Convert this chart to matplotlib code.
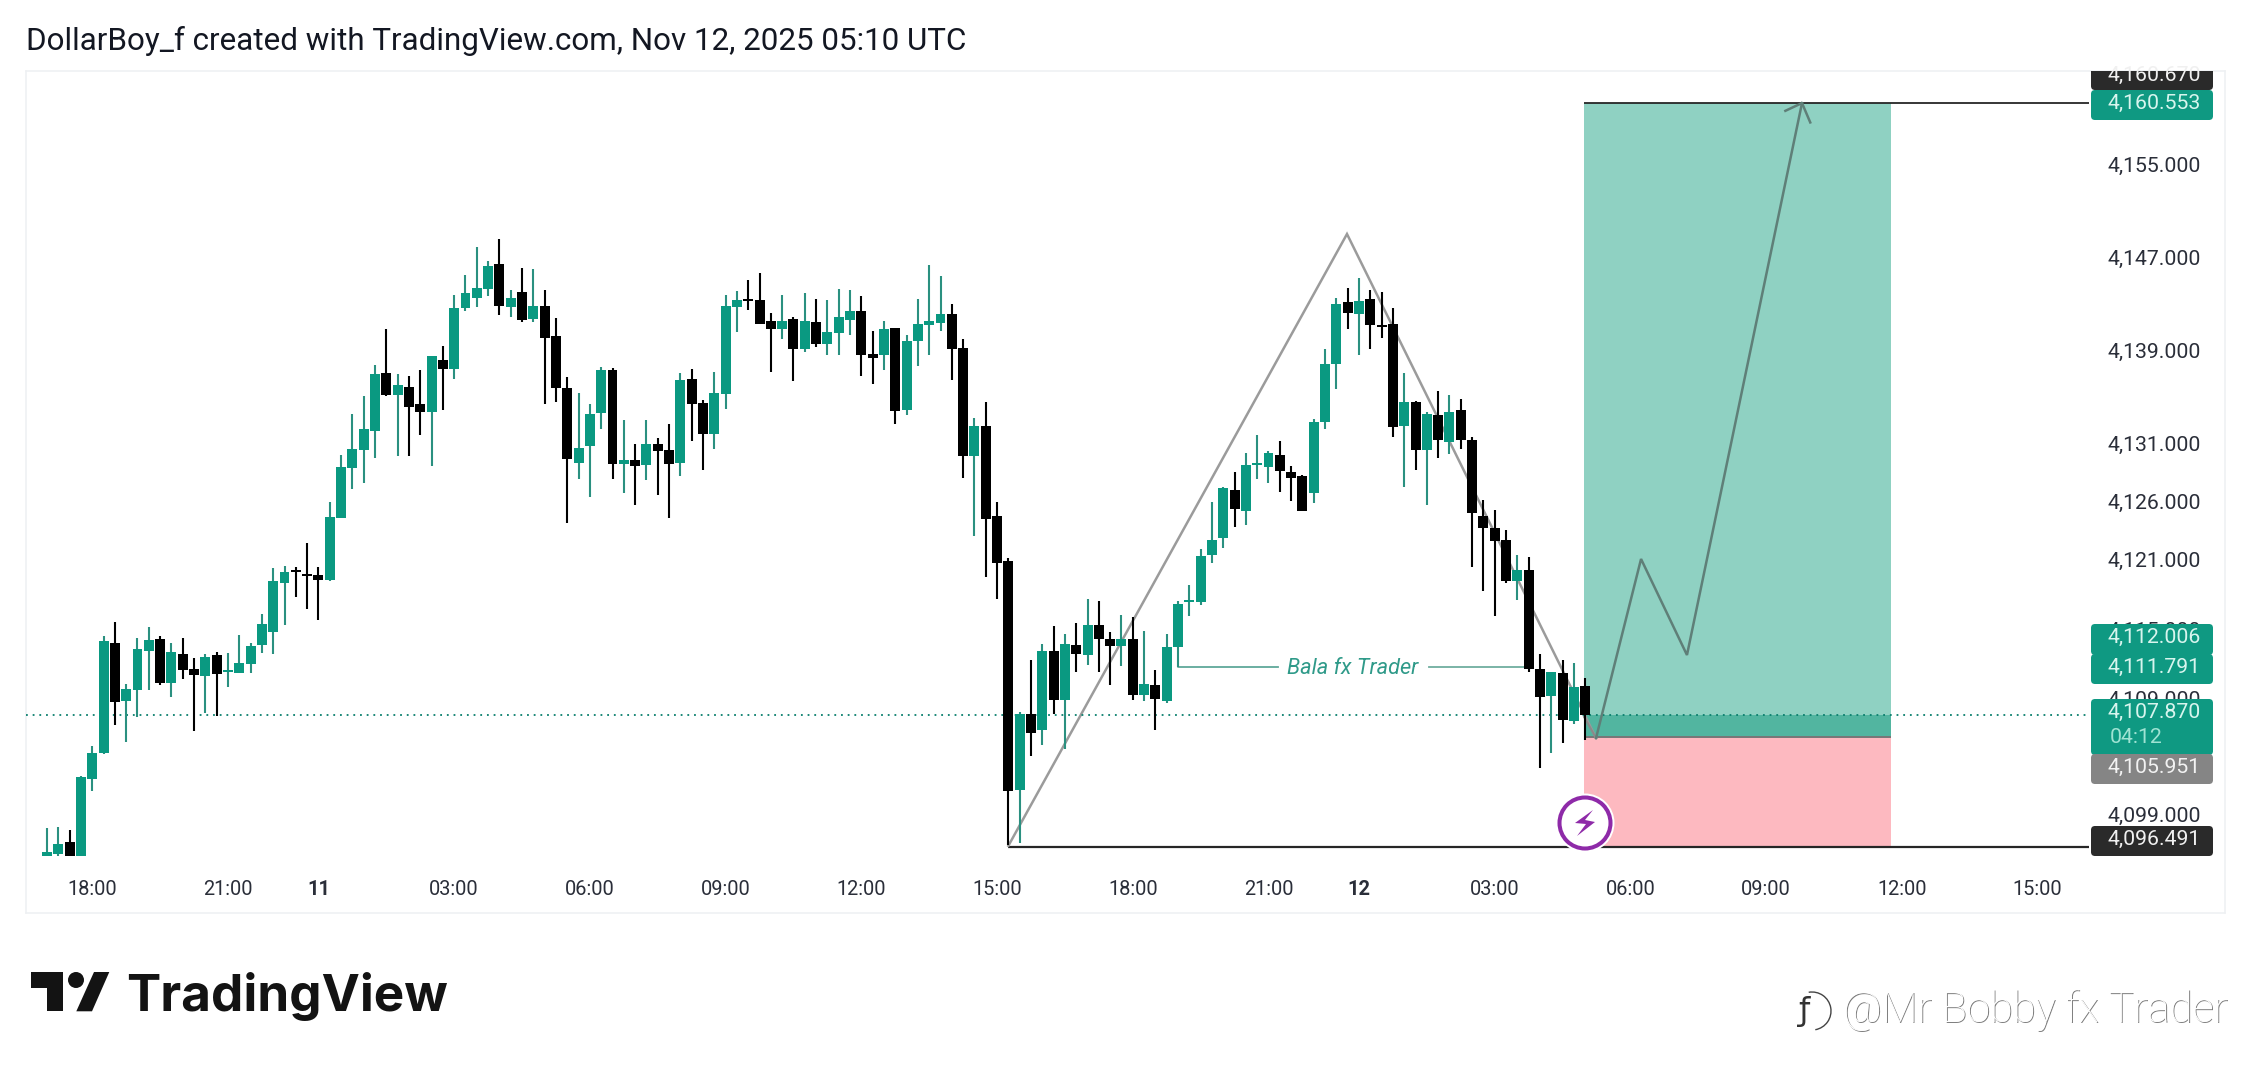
import numpy as np
import matplotlib
matplotlib.use("Agg")
import matplotlib.pyplot as plt
from matplotlib.patches import Rectangle, Circle, Polygon, FancyBboxPatch, Arc

W, H = 2251, 1072
BASE = 4000
opens = [95.75,95.93,96.91,95.75,102.35,104.56,114.06,109.06,110.0,113.37,114.42,110.61,113.12,111.81,111.23,113.04,111.56,111.52,112.25,113.88,115.0,119.24,120.33,120.04,119.93,119.46,124.82,129.14,130.7,132.33,137.33,135.41,136.1,134.65,133.96,138.42,137.66,142.88,143.82,144.54,146.68,142.99,144.29,141.93,
143.08,140.5,136.02,129.59,131.05,133.9,137.57,129.5,129.82,129.39,131.2,130.68,129.59,136.8,134.73,132.09,135.53,143.0,143.66,143.6,141.76,141.13,141.93,139.41,141.68,139.84,140.79,141.91,142.65,138.95,138.89,141.19,134.13,140.1,141.47,141.62,142.37,139.44,130.19,132.72,124.97,
121.1,101.42,107.92,106.56,113.37,109.18,113.88,113.07,115.62,114.39,113.82,114.39,109.59,110.44,109.07,113.71,117.6,117.6,121.65,123.11,127.24,125.43,129.38,129.21,130.27,128.8,128.43,127.0,133.09,138.1,143.41,142.36,143.69,141.4,141.54,132.75,134.82,130.69,133.7,131.38,134.13,131.55,125.0,123.97,122.93,119.4,120.35,111.82,109.53,111.45,107.35,110.36]
closes = [96.1,96.73,95.75,102.53,104.56,114.24,108.98,110.11,113.55,114.35,110.61,113.3,111.74,111.3,112.86,111.38,111.74,112.35,113.8,115.69,119.39,120.22,120.19,119.86,119.5,124.9,129.21,130.77,132.47,137.22,135.41,136.28,134.39,133.96,138.82,137.66,142.91,144.22,144.62,146.54,143.09,143.78,141.86,143.09,
140.36,136.05,129.93,130.82,133.75,137.57,129.5,129.82,129.3,131.17,130.59,129.5,136.71,134.67,132.09,135.56,143.05,143.6,143.54,141.56,141.13,141.79,139.41,141.79,139.84,140.84,142.11,142.65,138.86,138.63,141.07,134.07,140.04,141.5,141.76,142.37,139.41,130.19,132.72,124.77,120.98,
101.35,107.99,106.32,113.37,109.18,113.99,113.13,115.62,114.39,113.82,114.39,109.59,110.51,109.22,113.71,117.43,117.8,121.55,122.94,127.41,125.6,129.38,129.52,130.44,128.91,128.29,125.43,133.09,138.1,143.24,142.53,143.48,141.45,141.31,132.7,134.82,130.69,133.79,131.55,133.96,131.55,125.29,123.97,122.88,119.4,120.35,111.82,109.41,111.6,107.43,110.28,107.87]
highs = [98.11,98.25,98.0,102.64,105.18,114.67,115.87,110.51,114.53,115.44,114.67,114.06,114.53,112.75,113.08,113.33,113.19,114.78,114.09,116.52,120.51,120.66,120.58,122.72,120.58,126.2,130.26,133.78,135.34,137.98,141.1,137.22,137.04,137.59,138.82,139.65,144.07,145.74,148.17,146.97,148.86,144.51,146.36,146.25,
144.46,142.02,136.94,135.56,134.61,137.8,137.71,133.24,131.17,133.24,131.69,132.89,137.28,137.63,134.96,137.37,144.0,144.35,145.29,145.9,142.45,144.0,142.11,144.17,143.66,143.57,144.52,144.43,143.92,140.9,141.76,141.19,140.61,143.66,146.59,145.64,143.23,140.21,133.41,134.84,126.17,
121.35,108.13,112.59,114.02,115.49,114.87,115.83,117.84,117.66,115.01,116.47,116.34,115.08,111.77,114.87,117.66,119.1,122.19,126.18,127.47,128.77,130.4,131.97,130.61,131.49,129.35,128.53,133.37,139.39,143.75,144.67,145.47,144.47,144.27,142.89,137.29,134.91,133.93,135.74,135.39,135.05,131.78,126.38,125.52,123.8,121.64,121.47,113.12,111.6,112.57,112.31,111.02]
lows = [95.7,95.75,95.75,95.75,101.33,104.52,106.99,105.54,107.71,110.0,110.43,109.42,110.98,106.48,108.0,107.79,110.29,111.49,111.49,113.22,113.12,115.62,118.01,116.99,116.05,119.42,124.8,127.36,127.83,130.01,135.34,130.15,130.15,131.97,129.32,134.14,136.79,142.66,142.99,143.93,142.3,142.15,141.72,141.72,
134.67,134.84,124.42,128.21,126.66,132.49,128.21,127.01,125.97,128.12,126.83,124.85,128.47,131.49,128.99,130.77,134.24,140.87,142.74,141.56,137.43,140.27,136.65,139.15,139.58,138.89,138.89,140.61,137.08,136.39,137.6,132.95,133.72,137.94,138.89,140.96,136.71,128.3,123.24,119.77,117.88,
96.65,96.82,104.35,105.3,107.96,104.96,111.57,112.15,111.57,110.44,112.08,109.18,109.08,106.53,108.91,111.98,116.41,117.36,120.93,122.26,124.07,124.27,128.22,127.88,127.1,126.32,125.43,126.08,132.51,135.92,141.1,138.88,139.39,140.33,131.83,127.53,128.96,125.95,130.03,130.37,130.77,120.64,118.54,116.42,119.23,117.77,111.59,103.33,104.62,105.48,107.09,105.74]

price_ticks = [4155, 4147, 4139, 4131, 4126, 4121, 4115, 4109, 4099]
time_idx = [4, 16, 24, 36, 48, 60, 72, 84, 96, 108, 116, 128, 140, 152, 164, 176]
time_labels = ["18:00", "21:00", "11", "03:00", "06:00", "09:00", "12:00", "15:00", "18:00", "21:00", "12", "03:00", "06:00", "09:00", "12:00", "15:00"]

target, last, entry, stop = 4160.553, 4107.870, 4105.951, 4096.491
pos_start, pos_end = 135.9, 163.0
zigzag_x = [85.0, 114.94, 136.96]
zigzag_y = [4096.6, 4149.29, 4105.88]
path_x = [136.96, 140.94, 145.0, 155.17]
path_y = [4105.88, 4121.3, 4113.03, 4160.57]
callout_price = 4112.0

GREEN, WICKG, BLACK = "#0a9981", "#2a9080", "#000000"
plt.rcParams["font.family"] = ["Roboto", "DejaVu Sans"]
fig = plt.figure(figsize=(W / 100, H / 100), dpi=100, facecolor="white")

L, R, T, B = 26, 2225, 71, 913
ax = fig.add_axes([L / W, 1 - B / H, (R - L) / W, (B - T) / H])
ax.set_xlim(-1.857, 192.57)
ax.set_ylim(4090.81, 4163.33)
ax.set_xticks([]); ax.set_yticks([])
for s in ax.spines.values():
    s.set_color("#eef0f3"); s.set_linewidth(1.1)

o, c, h, l = [np.array(a) + BASE for a in (opens, closes, highs, lows)]
x = np.arange(len(o))
up = c >= o
axis_end = (2089 - 47) / 11.31

# position tool
ax.add_patch(Rectangle((pos_start, entry), pos_end - pos_start, target - entry, fc="#8fd1c2", ec="none", zorder=1))
ax.add_patch(Rectangle((pos_start, stop), pos_end - pos_start, entry - stop, fc="#fdb9c0", ec="none", zorder=1))
ax.add_patch(Rectangle((pos_start, entry), pos_end - pos_start, last - entry, fc="#52b5a0", ec="none", zorder=1.5))
ax.plot([pos_start, pos_end], [entry, entry], color="#777777", lw=1.4, zorder=2, solid_capstyle="butt")
ax.plot([pos_start, axis_end], [target, target], color="#262626", lw=1.3, zorder=2, solid_capstyle="butt")
ax.plot([85.0, axis_end], [stop, stop], color="#262626", lw=1.6, zorder=2, solid_capstyle="butt")

# drawings under the candles
ax.plot(zigzag_x, zigzag_y, color="#9b9b9b", lw=1.8, zorder=2.5, solid_joinstyle="miter")
ax.plot([135.9, 136.96], [4107.7, 4105.88], color="#8a8a8a", lw=1.5, zorder=2.5)
ax.plot([-1.857, axis_end], [last, last], color="#0a7f6d", lw=1.3, ls=(0, (1, 2.7)), zorder=2.6)

# callout
ax.plot([100, 100, 108.8], [o[100], callout_price, callout_price], color="#5fa89a", lw=1.3, zorder=2.6)
ax.plot([122.2, 130.6], [callout_price, callout_price], color="#6fae9f", lw=1.3, zorder=2.6)
ax.text(115.4, callout_price - 0.17, "Bala fx Trader", color="#2f9a89", style="italic", fontsize=15.7, ha="center", va="center", zorder=3)

# candles
ax.vlines(x[up], l[up], h[up], color=WICKG, lw=1.5, zorder=3)
ax.vlines(x[~up], l[~up], h[~up], color=BLACK, lw=1.5, zorder=3)
ax.bar(x[up], np.maximum(c[up] - o[up], 0.18), bottom=o[up], width=0.88, color=GREEN, zorder=4)
ax.bar(x[~up], np.maximum(o[~up] - c[~up], 0.18), bottom=c[~up], width=0.88, color=BLACK, zorder=4)

# projected path
ax.plot(path_x, path_y, color="#5f7f78", lw=1.8, zorder=5, solid_joinstyle="miter")
ax.plot([153.7, 155.17, 155.9], [4159.9, 4160.57, 4158.9], color="#5f7f78", lw=1.8, zorder=5)

# scales
for p in price_ticks:
    ax.text((2201 - 47) / 11.31, p + 0.1, f"{p:,.3f}", color="#2a2e39", fontsize=15.3, ha="right", va="center", zorder=6)
for i, lab in zip(time_idx, time_labels):
    bold = len(lab) == 2
    ax.text(i, 4090.81 + (913 - 889.5) / 11.61, lab, color="#2a2e39", fontsize=14.4, ha="center", va="center",
            fontweight="bold" if bold else "normal", zorder=6)

# overlay in pixel space
ov = fig.add_axes([0, 0, 1, 1], facecolor="none")
ov.set_xlim(0, W); ov.set_ylim(H, 0); ov.axis("off")
clip = Rectangle((L, T), R - L, B - T, transform=ov.transData)

def tag(y0, y1, color, text, ty, tc="#d8f5ee"):
    p = FancyBboxPatch((2091, y0), 122, y1 - y0, boxstyle="round,pad=0,rounding_size=4", fc=color, ec="none", zorder=7)
    ov.add_patch(p); p.set_clip_path(clip)
    t = ov.text(2201, ty, text, color=tc, fontsize=15.3, ha="right", va="center", zorder=8)
    t.set_clip_path(clip)

tag(66, 90, "#2a2a2a", "4,160.670", 75.5, "#f0f0f0")
tag(90, 120, "#0f9982", "4,160.553", 103.5)
tag(624, 655, "#0f9982", "4,112.006", 637.5)
tag(654, 684, "#0f9982", "4,111.791", 667.5)
tag(699, 755, "#0f9982", "4,107.870", 712.5)
ov.text(2110, 737.5, "04:12", color="#9fe3d3", fontsize=15.3, ha="left", va="center", zorder=8)
tag(754, 784, "#858585", "4,105.951", 767.5, "#f2f2f2")
tag(826, 856, "#2a2a2a", "4,096.491", 839.5, "#f0f0f0")

# signal badge
ov.add_patch(Circle((1585, 823), 29.5, fc="white", ec="none", zorder=7))
ov.add_patch(Circle((1585, 823), 25.5, fc="white", ec="#8e2aa8", lw=2.9, zorder=7.5))
ov.add_patch(Polygon([(1593, 810), (1575, 823), (1586, 824), (1577, 836), (1595, 822), (1585, 820)], fc="#8e2aa8", ec="none", zorder=8))

# header
ov.text(26, 41, "DollarBoy_f created with TradingView.com, Nov 12, 2025 05:10 UTC", color="#131722", fontsize=22.6, ha="left", va="center")

# logo
LOGO = "#131313"
ov.add_patch(Polygon([(31, 972), (62.7, 972), (62.7, 1011), (47, 1011), (47, 987.7), (31, 987.7)], fc=LOGO, ec="none"))
ov.add_patch(Circle((76, 980), 8, fc=LOGO, ec="none"))
ov.add_patch(Polygon([(94, 972), (109.3, 972), (92, 1011.3), (76.3, 1011.3)], fc=LOGO, ec="none"))
ov.text(126, 1011, "TradingView", color=LOGO, fontsize=36.9, family="Inter", fontweight="bold", ha="left", va="baseline")

# watermark
WM = "@Mr Bobby fx Trader"
ov.text(1844, 1023, WM, color="#808080", fontsize=30.1, fontweight="light", ha="left", va="baseline", zorder=9)
ov.text(1843, 1022.3, WM, color="#ffffff", fontsize=30.1, fontweight="light", ha="left", va="baseline", zorder=9.5)
ov.add_patch(Arc((1812, 1011), 38, 38, theta1=-100, theta2=80, ec="#444444", lw=1.0))
ov.text(1805, 1020, "\u0192", color="#333333", fontsize=23, family="DejaVu Sans", ha="center", va="baseline")

fig.savefig("out.png", dpi=100, facecolor="white")
